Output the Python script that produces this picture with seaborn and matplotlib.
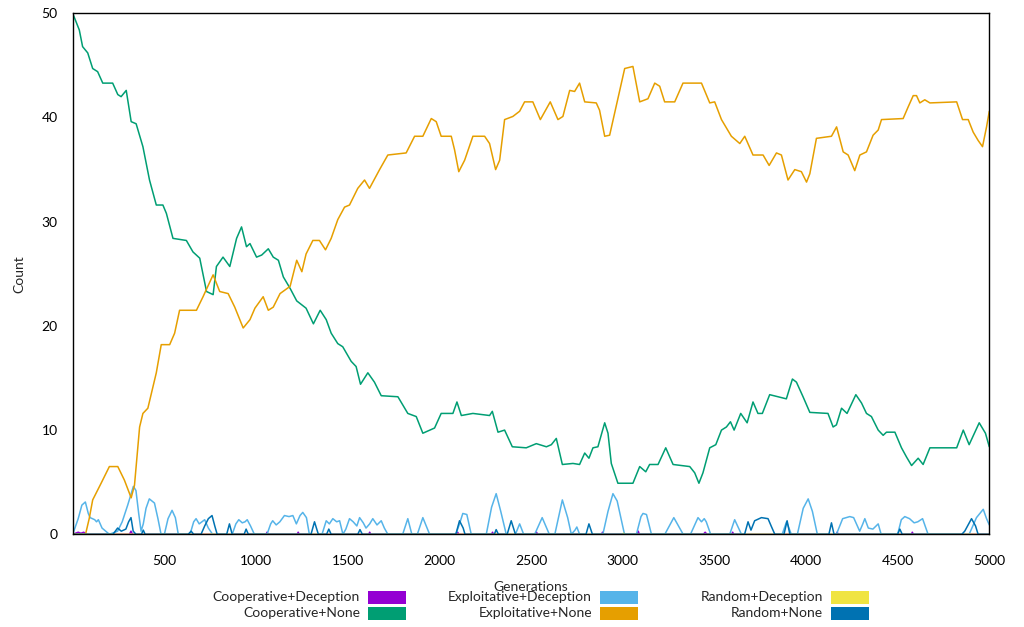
import pandas as pd
import matplotlib
matplotlib.use('Agg')
import matplotlib.pyplot as plt
from matplotlib.patches import Rectangle
import seaborn as sns

# Values, as (generation, count) pairs
coop_dec = [(0, 0), (30, 0.2), (45, 0.1), (60, 0.2), (75, 0), (310, 0), (318, 0.3), (326, 0),
            (1055, 0), (1060, 0.2), (1066, 0), (1225, 0), (1230, 0.2), (1236, 0),
            (1615, 0), (1620, 0.2), (1626, 0), (2095, 0), (2100, 0.2), (2106, 0),
            (2285, 0), (2290, 0.2), (2296, 0), (2525, 0), (2530, 0.2), (2536, 0),
            (2885, 0), (2890, 0.2), (2896, 0), (3080, 0), (3085, 0.3), (3091, 0),
            (3440, 0), (3450, 0.2), (3460, 0), (3595, 0), (3600, 0.2), (3606, 0),
            (4165, 0), (4170, 0.2), (4176, 0), (4575, 0), (4580, 0.2), (4586, 0), (5000, 0)]

coop_none = [(0, 50), (36, 48.4), (54, 46.8), (82, 46.2), (109, 44.7), (136, 44.4), (164, 43.3),
             (218, 43.3), (246, 42.2), (264, 42.0), (292, 42.6), (319, 39.6), (346, 39.4),
             (383, 37.2), (419, 34.0), (456, 31.6), (492, 31.6), (511, 30.8), (547, 28.4),
             (620, 28.2), (656, 27.1), (693, 26.5), (730, 23.3), (766, 23.0), (784, 25.7),
             (820, 26.6), (857, 25.7), (894, 28.4), (921, 29.5), (948, 27.6), (967, 27.9),
             (1003, 26.6), (1031, 26.8), (1067, 27.4), (1094, 26.6), (1122, 26.3), (1149, 24.7),
             (1186, 23.6), (1222, 22.4), (1273, 21.7), (1313, 20.2), (1350, 21.5), (1383, 20.6),
             (1410, 19.3), (1446, 18.3), (1473, 18.0), (1519, 16.6), (1546, 16.1), (1570, 14.4),
             (1610, 15.5), (1646, 14.6), (1683, 13.3), (1774, 13.2), (1828, 11.6), (1874, 11.3),
             (1910, 9.7), (1974, 10.2), (2010, 11.6), (2074, 11.6), (2096, 12.7), (2120, 11.4),
             (2183, 11.6), (2274, 11.4), (2289, 11.8), (2320, 9.8), (2356, 10.0), (2398, 8.4),
             (2474, 8.3), (2529, 8.7), (2584, 8.4), (2611, 8.6), (2638, 9.2), (2671, 6.7),
             (2729, 6.8), (2765, 6.7), (2793, 7.8), (2816, 7.3), (2838, 8.3), (2865, 8.4),
             (2902, 10.7), (2920, 9.7), (2938, 6.8), (2974, 4.9), (3056, 4.9), (3093, 6.5),
             (3126, 6.0), (3147, 6.7), (3193, 6.7), (3235, 8.3), (3275, 6.7), (3366, 6.5),
             (3393, 5.9), (3416, 4.9), (3438, 5.9), (3475, 8.3), (3508, 8.6), (3539, 10.0),
             (3566, 10.3), (3588, 10.8), (3608, 10.0), (3644, 11.6), (3679, 10.7), (3711, 12.7),
             (3738, 11.6), (3762, 11.6), (3802, 13.4), (3893, 13.0), (3926, 14.9), (3948, 14.6),
             (3984, 13.2), (4021, 11.7), (4120, 11.6), (4148, 10.3), (4166, 10.5), (4194, 12.1),
             (4224, 11.6), (4272, 13.4), (4303, 12.6), (4330, 11.6), (4357, 11.3), (4394, 10.0),
             (4421, 9.5), (4439, 9.8), (4485, 9.8), (4521, 8.3), (4549, 7.4), (4576, 6.6),
             (4612, 7.3), (4639, 6.7), (4676, 8.3), (4822, 8.3), (4858, 10.0), (4890, 8.6),
             (4945, 10.7), (4979, 9.7), (5000, 8.4)]

expl_dec = [(0, 0), (30, 1.5), (50, 2.8), (69, 3.1), (85, 2.0), (95, 1.6), (120, 1.4), (130, 1.2),
            (140, 1.4), (160, 0.6), (200, 0), (245, 0.3), (270, 1.2), (300, 2.8), (331, 4.6),
            (345, 4.2), (360, 2.0), (373, 0.3), (385, 1.0), (400, 2.5), (418, 3.4), (446, 3.0),
            (465, 1.5), (482, 0), (500, 0), (520, 1.5), (542, 2.3), (560, 1.6), (576, 0),
            (640, 0), (660, 1.2), (673, 1.5), (690, 1.0), (705, 1.2), (720, 1.4), (740, 0.6),
            (763, 0), (870, 0), (890, 1.0), (906, 1.4), (925, 1.1), (940, 1.2), (952, 1.4),
            (970, 0.8), (991, 0), (1060, 0), (1080, 1.0), (1091, 1.3), (1110, 0.9), (1130, 1.2),
            (1155, 1.8), (1180, 1.7), (1201, 1.8), (1220, 1.0), (1240, 1.8), (1255, 2.1),
            (1275, 1.6), (1291, 0), (1360, 0), (1383, 1.3), (1400, 1.0), (1419, 1.5), (1440, 1.2),
            (1456, 1.3), (1474, 0), (1490, 0.5), (1510, 1.5), (1530, 1.2), (1550, 0.8),
            (1565, 1.6), (1585, 1.1), (1600, 0.6), (1620, 1.0), (1637, 1.5), (1660, 0.9),
            (1683, 1.3), (1700, 0.6), (1719, 0), (1800, 0), (1828, 1.5), (1850, 0), (1880, 0),
            (1910, 1.6), (1947, 0), (2090, 0), (2110, 1.0), (2128, 2.0), (2150, 1.9), (2174, 0),
            (2256, 0), (2285, 2.6), (2310, 3.9), (2335, 2.2), (2365, 0), (2415, 0), (2438, 1.0),
            (2460, 0), (2520, 0), (2561, 1.6), (2600, 0), (2630, 0), (2671, 3.3), (2700, 1.6),
            (2720, 0), (2740, 0.4), (2750, 0.7), (2765, 0), (2892, 0), (2920, 2.2), (2947, 3.9),
            (2970, 3.2), (3010, 0), (3075, 0), (3100, 1.7), (3111, 2.0), (3130, 1.9), (3157, 0),
            (3230, 0), (3279, 1.6), (3330, 0), (3370, 0), (3411, 1.6), (3430, 1.2), (3445, 1.5),
            (3456, 1.2), (3480, 0), (3584, 0), (3611, 1.4), (3648, 0), (3870, 0), (3894, 1.2),
            (3920, 0), (3953, 0), (3985, 2.5), (4012, 3.4), (4035, 2.2), (4062, 0), (4166, 0),
            (4200, 1.5), (4239, 1.7), (4260, 1.6), (4293, 0.3), (4310, 1.0), (4321, 1.5),
            (4340, 0.6), (4365, 0.5), (4394, 1.0), (4410, 0), (4500, 0), (4520, 1.4), (4539, 1.7),
            (4565, 1.5), (4590, 1.1), (4610, 1.2), (4636, 1.5), (4666, 0), (4890, 0), (4930, 1.6),
            (4967, 2.4), (4985, 1.5), (5000, 0.9)]

expl_none = [(0, 0), (70, 0), (90, 1.5), (109, 3.3), (155, 4.9), (200, 6.5), (246, 6.5), (282, 5.2),
             (319, 3.5), (337, 4.7), (365, 10.3), (383, 11.6), (410, 12.1), (456, 15.5), (483, 18.2),
             (529, 18.2), (556, 19.3), (583, 21.5), (675, 21.5), (711, 22.8), (766, 24.9),
             (802, 23.3), (848, 23.1), (884, 21.8), (930, 19.8), (967, 20.6), (994, 21.7),
             (1039, 22.8), (1067, 21.5), (1094, 21.8), (1131, 23.1), (1186, 23.8), (1222, 26.3),
             (1250, 25.2), (1273, 26.9), (1310, 28.2), (1346, 28.2), (1379, 27.3), (1410, 28.4),
             (1446, 30.2), (1483, 31.4), (1510, 31.6), (1555, 33.2), (1592, 34.0), (1619, 33.2),
             (1674, 35.0), (1719, 36.4), (1819, 36.6), (1865, 38.2), (1910, 38.2), (1956, 39.9),
             (1983, 39.6), (2010, 38.2), (2065, 38.2), (2083, 36.9), (2106, 34.8), (2138, 35.9),
             (2183, 38.2), (2247, 38.2), (2274, 37.5), (2307, 35.0), (2329, 35.9), (2356, 39.8),
             (2401, 40.1), (2438, 40.6), (2465, 41.5), (2510, 41.5), (2551, 39.8), (2605, 41.5),
             (2647, 39.8), (2674, 40.1), (2711, 42.6), (2738, 42.5), (2765, 43.3), (2793, 41.5),
             (2856, 41.4), (2874, 40.7), (2902, 38.2), (2929, 38.3), (2974, 41.8), (3011, 44.7),
             (3056, 44.9), (3093, 41.5), (3138, 41.8), (3175, 43.3), (3202, 43.0), (3229, 41.5),
             (3284, 41.5), (3329, 43.3), (3430, 43.3), (3475, 41.4), (3502, 41.5), (3539, 39.8),
             (3593, 38.2), (3639, 37.5), (3666, 38.2), (3711, 36.4), (3766, 36.4), (3799, 35.4),
             (3839, 36.6), (3866, 36.4), (3902, 34.0), (3939, 35.0), (3975, 34.8), (4003, 33.8),
             (4021, 34.6), (4057, 38.0), (4139, 38.2), (4167, 39.1), (4203, 36.7), (4230, 36.4),
             (4266, 34.9), (4294, 36.4), (4330, 36.7), (4366, 38.3), (4394, 38.8), (4412, 39.8),
             (4530, 39.9), (4557, 41.0), (4585, 42.1), (4603, 42.1), (4621, 41.4), (4648, 41.7),
             (4676, 41.4), (4822, 41.5), (4854, 39.8), (4885, 39.8), (4912, 38.6), (4939, 37.8),
             (4963, 37.2), (4985, 39.1), (5000, 40.6)]

rand_dec = [(0, 0), (2300, 0), (2305, 0.1), (2310, 0), (3000, 0), (3005, 0.1), (3010, 0), (5000, 0)]

rand_none = [(0, 0), (220, 0), (245, 0.6), (265, 0.3), (290, 0.5), (305, 1.2), (318, 1.6), (330, 0.3),
             (345, 0), (375, 0), (385, 0.4), (395, 0), (630, 0), (646, 0.3), (660, 0), (700, 0),
             (720, 0.8), (740, 1.5), (760, 1.8), (775, 0.8), (788, 0), (840, 0), (855, 1.0), (870, 0),
             (935, 0), (946, 0.5), (958, 0), (1300, 0), (1319, 1.2), (1340, 0), (1385, 0), (1397, 0.5),
             (1410, 0), (1555, 0), (1567, 0.45), (1580, 0), (2090, 0), (2110, 1.3), (2130, 0.6),
             (2140, 0), (2300, 0), (2310, 0.45), (2322, 0), (2370, 0), (2392, 1.3), (2415, 0),
             (2800, 0), (2816, 1.0), (2835, 0), (3665, 0), (3684, 1.2), (3700, 0.4), (3720, 1.3),
             (3757, 1.6), (3793, 1.5), (3810, 0.8), (3830, 0), (3880, 0), (3897, 1.3), (3912, 0),
             (4125, 0), (4139, 1.1), (4153, 0), (4500, 0), (4512, 0.5), (4525, 0), (4850, 0),
             (4866, 0.3), (4903, 1.5), (4925, 0.8), (4939, 0), (5000, 0)]

labels = ['Cooperative+Deception', 'Cooperative+None', 'Exploitative+Deception',
          'Exploitative+None', 'Random+Deception', 'Random+None']
colors = ['#9400D3', '#009E73', '#56B4E9', '#E69F00', '#F0E442', '#0072B2']
x_ticks = [500, 1000, 1500, 2000, 2500, 3000, 3500, 4000, 4500, 5000]
y_ticks = [0, 10, 20, 30, 40, 50]

series = [coop_dec, coop_none, expl_dec, expl_none, rand_dec, rand_none]
rows = []
for name, pts in zip(labels, series):
    for g, v in pts:
        rows.append({'Generations': g, 'Count': v, 'Strategy': name})
df = pd.DataFrame(rows)

sns.set_theme(style='white')
plt.rcParams['font.family'] = ['Lato', 'DejaVu Sans']
plt.rcParams['font.size'] = 10

W, H = 1024, 627
fig = plt.figure(figsize=(W / 100, H / 100), dpi=100)
ax = fig.add_axes([72.7 / W, 1 - 534.3 / H, (989.3 - 72.7) / W, (534.3 - 13.3) / H])

sns.lineplot(data=df, x='Generations', y='Count', hue='Strategy', hue_order=labels,
             palette=dict(zip(labels, colors)), estimator=None, sort=False,
             linewidth=1.1, legend=False, ax=ax)

ax.set_xlim(0, 5000)
ax.set_ylim(0, 50)
ax.set_xticks(x_ticks)
ax.set_yticks(y_ticks)
ax.tick_params(direction='out', length=3.8, width=1, colors='black', labelsize=10,
               top=False, right=False)
ax.tick_params(axis='x', pad=11)
ax.tick_params(axis='y', pad=7)
for sp in ax.spines.values():
    sp.set_color('black')
    sp.set_linewidth(1.0)
ax.set_xlabel('Generations', fontsize=10, labelpad=10)
ax.set_ylabel('Count', fontsize=10, labelpad=11.5)

# legend in gnuplot style: label right-aligned, colour box to its right
col_text_right = [360, 592, 823]
row_center = [597, 613]
for i, (name, c) in enumerate(zip(labels, colors)):
    col, row = i // 2, i % 2
    xr = col_text_right[col]
    yc = row_center[row]
    fig.text(xr / W, 1 - yc / H, name, ha='right', va='center', fontsize=10)
    fig.add_artist(Rectangle(((xr + 8) / W, 1 - (yc + 6.5) / H), 38 / W, 13 / H,
                             transform=fig.transFigure, facecolor=c, edgecolor='none'))

fig.savefig('out.png', dpi=100)
